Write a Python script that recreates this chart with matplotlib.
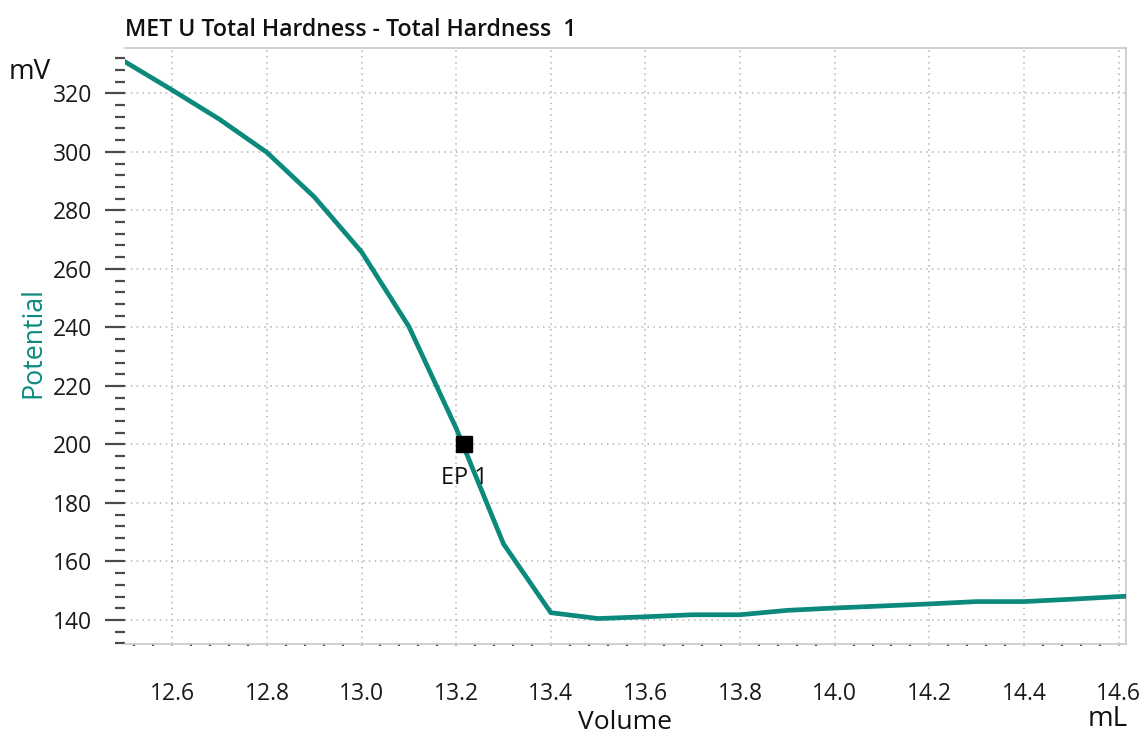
import matplotlib
matplotlib.use("Agg")
import matplotlib.pyplot as plt
from matplotlib.ticker import MultipleLocator

plt.rcParams['font.family'] = ['Open Sans', 'DejaVu Sans']

# titration curve
volume = [12.5, 12.6, 12.7, 12.8, 12.9, 13.0, 13.1, 13.2, 13.3, 13.4, 13.5,
          13.6, 13.7, 13.8, 13.9, 14.0, 14.1, 14.2, 14.3, 14.4, 14.5, 14.6, 14.615]
potential = [330.8, 321.1, 311.1, 299.8, 284.6, 265.8, 240.3, 205.5, 166.0, 142.5, 140.5,
             141.1, 141.8, 141.8, 143.3, 144.1, 144.8, 145.5, 146.3, 146.3, 147.1, 148.0, 148.1]
ep_vol = [13.217]
ep_pot = [200.0]
ep_label = "EP 1"

title = "MET U Total Hardness - Total Hardness  1"
teal = "#0b8a7c"
grid_c = "#b4b4b4"
tick_c = "#4a4a4a"

fig = plt.figure(figsize=(11.4, 7.35), dpi=100)
ax = fig.add_axes([125/1140, 1-644/735, 1000.7/1140, (644-47.7)/735])

ax.plot(volume, potential, color=teal, lw=3.4, solid_joinstyle='miter', zorder=3)
ax.plot(ep_vol, ep_pot, ls='none', marker='s', ms=11, color='black', zorder=4)
ax.annotate(ep_label, (ep_vol[0], ep_pot[0]), xytext=(0, -24), textcoords='offset points',
            ha='center', va='center', fontsize=17, color='#111111', zorder=5)

ax.set_xlim(12.5, 14.615)
ax.set_ylim(131.8, 335.6)

ax.xaxis.set_major_locator(MultipleLocator(0.2))
ax.xaxis.set_minor_locator(MultipleLocator(0.04))
ax.yaxis.set_major_locator(MultipleLocator(20))
ax.yaxis.set_minor_locator(MultipleLocator(4))
ax.xaxis.set_major_formatter(lambda v, p: f"{v:.1f}")

ax.grid(True, which='major', color=grid_c, lw=1.1, ls=(0, (1, 2.8)))

for s in ['top', 'right', 'bottom']:
    ax.spines[s].set_color('#c8c8c8')
    ax.spines[s].set_linewidth(1.2)
ax.spines['left'].set_visible(False)

ax.tick_params(axis='y', which='major', direction='out', length=14.5, width=1.6,
               color=tick_c, pad=9, labelsize=16.5, labelcolor='#1a1a1a')
ax.tick_params(axis='y', which='minor', direction='out', length=7.5, width=1.6, color=tick_c)
ax.tick_params(axis='x', which='major', direction='out', length=1.5, width=1.6,
               color=grid_c, pad=26, labelsize=16.5, labelcolor='#1a1a1a')
ax.tick_params(axis='x', which='minor', direction='out', length=1.5, width=1.6, color=tick_c)

fig.text(125/1140, 1-36/735, title, fontsize=16.7, fontweight='semibold', color='#111111',
         ha='left', va='baseline')
fig.text(30/1140, 1-72/735, "mV", fontsize=20, color='#111111', ha='center', va='center')
fig.text(33/1140, 1-343/735, "Potential", fontsize=19.3, color=teal, rotation=90,
         ha='center', va='center')
fig.text(625/1140, 1-729/735, "Volume", fontsize=19, color='#111111', ha='center', va='baseline')
fig.text(1108/1140, 1-733/735, "mL", fontsize=20, color='#111111', ha='center', va='bottom')

fig.savefig("out.png", dpi=100)
